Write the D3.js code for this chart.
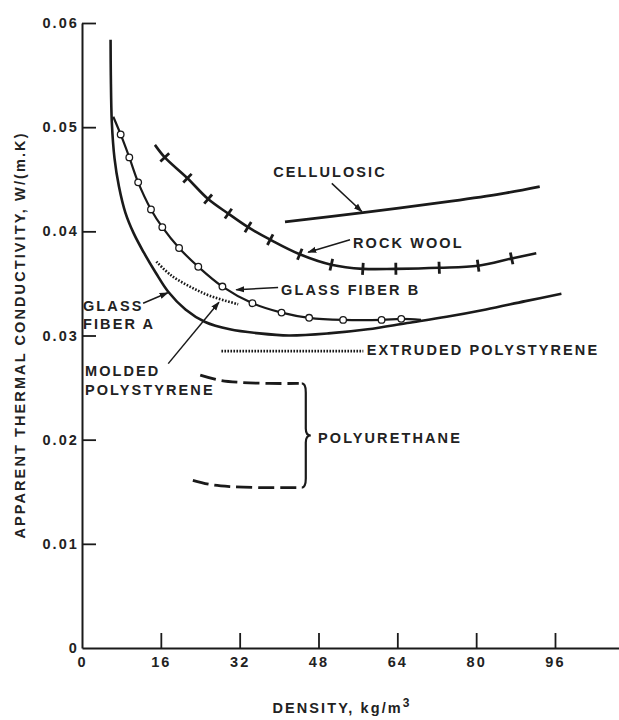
<!DOCTYPE html>
<html>
<head>
<meta charset="utf-8">
<script src="https://cdn.jsdelivr.net/npm/d3@7"></script>
<style>
  html, body { margin: 0; padding: 0; background: #fff; }
  svg { display: block; }
  text { font-family: "Liberation Sans", Arial, Helvetica, sans-serif; font-weight: bold; fill: #222; }
</style>
</head>
<body>
<svg id="chart" width="619" height="720"></svg>
<script>
// ---------- data ----------
const xTickValues = [0, 16, 32, 48, 64, 80, 96];
const yTickValues = [0, 0.01, 0.02, 0.03, 0.04, 0.05, 0.06];
const yTickLabels = ["0", "0.01", "0.02", "0.03", "0.04", "0.05", "0.06"];

const glassA_x = [5.8, 5.85, 6.05, 6.6, 7.5, 8.8, 10.5, 12.5, 15, 17.5, 21, 25, 30, 36, 42, 50, 58, 66, 74, 82, 90, 97.3];
const glassA_y = [0.0584, 0.0550, 0.0505, 0.0470, 0.0443, 0.0418, 0.0398, 0.0380, 0.0360, 0.0342, 0.0325, 0.0313, 0.0306, 0.0302, 0.0300, 0.0302, 0.0306, 0.0312, 0.0318, 0.0325, 0.0333, 0.0340];

const glassB_x = [6.35, 7.85, 9.6, 11.4, 14.0, 16.3, 19.7, 23.6, 28.5, 34.6, 40.5, 46.1, 53.0, 60.8, 64.8, 68.8];
const glassB_y = [0.0510, 0.0493, 0.0471, 0.0447, 0.0421, 0.0404, 0.0384, 0.0366, 0.0347, 0.0331, 0.0322, 0.0317, 0.0315, 0.0315, 0.0316, 0.0315];
const glassB_marker_x = [7.85, 9.6, 11.4, 14.0, 16.3, 19.7, 23.6, 28.5, 34.6, 40.5, 46.1, 53.0, 60.8, 64.8];

const rock_x = [14.8, 16.8, 21.4, 25.6, 29.7, 33.7, 38.2, 44.2, 50.6, 57.0, 63.7, 72.5, 80.4, 87.2, 92.2];
const rock_y = [0.0483, 0.0471, 0.0451, 0.0431, 0.0417, 0.0404, 0.0392, 0.0378, 0.0368, 0.0364, 0.0364, 0.0365, 0.0367, 0.0374, 0.0379];
const rockTick_x = [16.8, 21.4, 25.6, 29.7, 33.7, 38.2, 44.2, 50.6, 57.0, 63.7, 72.5, 80.4, 87.2];

const cell_x = [41.2, 57, 75, 85, 92.9];
const cell_y = [0.0409, 0.0418, 0.0429, 0.0436, 0.0443];

const molded_x = [15.1, 18, 21.9, 26, 31.7];
const molded_y = [0.0371, 0.0358, 0.0347, 0.0338, 0.0330];

const extruded_x = [28.3, 57.1];
const extruded_y = [0.0285, 0.0285];

const pu1_x = [24, 28, 32, 38, 44];
const pu1_y = [0.0262, 0.0257, 0.0255, 0.0254, 0.0254];
const pu2_x = [22.5, 26, 30, 36, 43.5];
const pu2_y = [0.0161, 0.0157, 0.0155, 0.0154, 0.0154];

// labels (text, anchor point in data units)
const labelText = [["CELLULOSIC"], ["ROCK WOOL"], ["GLASS FIBER B"], ["GLASS", "FIBER A"], ["MOLDED", "POLYSTYRENE"], ["EXTRUDED POLYSTYRENE"], ["POLYURETHANE"]];
const label_x = [38.8, 55.0, 40.4, 0.2, 0.6, 57.8, 47.9];
const label_y = [0.0457, 0.0389, 0.0344, 0.0329, 0.0266, 0.0286, 0.0202];

// arrows (from -> to, head at "to")
const arrowFrom_x = [50.7, 54.4, 39.8, 12.4, 17.5];
const arrowFrom_y = [0.0446, 0.0392, 0.0346, 0.0331, 0.0273];
const arrowTo_x = [56.8, 45.9, 31.3, 17.4, 27.8];
const arrowTo_y = [0.0419, 0.0380, 0.0344, 0.0341, 0.0332];

// ---------- chart ----------
const svg = d3.select("#chart");
const x = d3.scaleLinear().domain([0, 109]).range([82, 82 + 109 * 4.927]);
const y = d3.scaleLinear().domain([0, 0.06]).range([648, 23]);
const ink = "#1a1a1a";
const FS = "14.5px", LS = "2.1px";

// axes
const xAxis = d3.axisBottom(x).tickValues(xTickValues).tickSizeInner(-15).tickSizeOuter(0).tickPadding(9).tickFormat(d3.format("d"));
const gx = svg.append("g").attr("transform", "translate(0,648)").call(xAxis);
const yAxis = d3.axisLeft(y).tickValues(yTickValues).tickSizeInner(-14).tickSizeOuter(0).tickPadding(5)
  .tickFormat((d, i) => yTickLabels[i]);
const gy = svg.append("g").attr("transform", "translate(82,0)").call(yAxis);
[gx, gy].forEach(g => {
  g.select(".domain").attr("stroke", ink).attr("stroke-width", 2);
  g.selectAll(".tick line").attr("stroke", ink).attr("stroke-width", 1.8);
  g.selectAll(".tick text").style("font-size", FS).style("letter-spacing", LS).attr("fill", ink);
});
gx.selectAll(".tick").filter(d => d === 0).select("line").remove();
gy.selectAll(".tick").filter(d => d === 0).select("line").remove();
gy.selectAll(".tick text").attr("dx", "2px");

// axis titles
svg.append("text").attr("x", 342).attr("y", 713).attr("text-anchor", "middle")
  .style("font-size", FS).style("letter-spacing", LS)
  .text("DENSITY, kg/m").append("tspan").attr("dy", -6).style("font-size", "12px").text("3");
svg.append("text").attr("transform", "translate(25,335) rotate(-90)").attr("text-anchor", "middle")
  .style("font-size", FS).style("letter-spacing", LS)
  .text("APPARENT THERMAL CONDUCTIVITY, W/(m.K)");

// helpers
const zip = (xs, ys) => xs.map((v, i) => [v, ys[i]]);
const line = d3.line().x(d => x(d[0])).y(d => y(d[1])).curve(d3.curveCatmullRom.alpha(0.5));
function drawLine(pts, opts) {
  return svg.append("path").datum(pts).attr("d", line).attr("fill", "none")
    .attr("stroke", ink).attr("stroke-width", opts.w || 2.4)
    .attr("stroke-dasharray", opts.dash || null).attr("stroke-linecap", opts.cap || "butt");
}

// curves
drawLine(zip(glassA_x, glassA_y), { w: 2.6 });
const pathB = drawLine(zip(glassB_x, glassB_y), { w: 2.2 });
const pathR = drawLine(zip(rock_x, rock_y), { w: 2.6 });
drawLine(zip(cell_x, cell_y), { w: 2.8 });
drawLine(zip(molded_x, molded_y), { w: 2.6, dash: "1.6,1.6" });
drawLine(zip(extruded_x, extruded_y), { w: 2.6, dash: "1.6,1.4" });
drawLine(zip(pu1_x, pu1_y), { w: 2.8, dash: "16,6" });
drawLine(zip(pu2_x, pu2_y), { w: 2.8, dash: "16,6" });

// locate a point on a path by x pixel
function pointAtX(pathSel, px) {
  const node = pathSel.node(), L = node.getTotalLength();
  let lo = 0, hi = L;
  for (let k = 0; k < 40; k++) {
    const mid = (lo + hi) / 2;
    if (node.getPointAtLength(mid).x < px) lo = mid; else hi = mid;
  }
  const p = node.getPointAtLength(lo);
  const p2 = node.getPointAtLength(Math.min(L, lo + 1));
  const p1 = node.getPointAtLength(Math.max(0, lo - 1));
  return { x: p.x, y: p.y, a: Math.atan2(p2.y - p1.y, p2.x - p1.x) };
}

// glass fiber B markers
svg.append("g").selectAll("circle").data(glassB_marker_x).join("circle")
  .each(function (d) {
    const p = pointAtX(pathB, x(d));
    d3.select(this).attr("cx", p.x).attr("cy", p.y);
  })
  .attr("r", 3.3).attr("fill", "#fff").attr("stroke", ink).attr("stroke-width", 1.3);

// rock wool tick marks
svg.append("g").selectAll("line").data(rockTick_x).join("line")
  .each(function (d) {
    const p = pointAtX(pathR, x(d));
    const n = p.a + Math.PI / 2, h = 6;
    d3.select(this).attr("x1", p.x - Math.cos(n) * h).attr("y1", p.y - Math.sin(n) * h)
      .attr("x2", p.x + Math.cos(n) * h).attr("y2", p.y + Math.sin(n) * h);
  })
  .attr("stroke", ink).attr("stroke-width", 2.8);

// polyurethane brace
{
  const x0 = x(pu1_x[pu1_x.length - 1]) + 3;
  const top = y(pu1_y[pu1_y.length - 1]), bot = y(pu2_y[pu2_y.length - 1]);
  const mid = (top + bot) / 2;
  const bx = x0 + 4;
  const d = `M${x0},${top} Q${bx},${top} ${bx},${top + 9} L${bx},${mid - 7} Q${bx},${mid} ${bx + 5},${mid}` +
    ` Q${bx},${mid} ${bx},${mid + 7} L${bx},${bot - 9} Q${bx},${bot} ${x0},${bot}`;
  svg.append("path").attr("d", d).attr("fill", "none").attr("stroke", ink).attr("stroke-width", 2.2);
}

// arrows
svg.append("defs").append("marker").attr("id", "ah").attr("viewBox", "0 0 10 10")
  .attr("refX", 9).attr("refY", 5).attr("markerWidth", 9).attr("markerHeight", 9)
  .attr("markerUnits", "userSpaceOnUse").attr("orient", "auto")
  .append("path").attr("d", "M0,1.5 L10,5 L0,8.5 Z").attr("fill", ink);
svg.append("g").selectAll("line").data(arrowFrom_x).join("line")
  .attr("x1", (d, i) => x(arrowFrom_x[i])).attr("y1", (d, i) => y(arrowFrom_y[i]))
  .attr("x2", (d, i) => x(arrowTo_x[i])).attr("y2", (d, i) => y(arrowTo_y[i]))
  .attr("stroke", ink).attr("stroke-width", 1.5).attr("marker-end", "url(#ah)");

// labels
svg.append("g").selectAll("text").data(labelText).join("text")
  .attr("x", (d, i) => x(label_x[i])).attr("y", (d, i) => y(label_y[i]))
  .style("font-size", FS).style("letter-spacing", LS)
  .each(function (d, i) {
    const t = d3.select(this);
    d.forEach((s, j) => {
      t.append("tspan").attr("x", x(label_x[i])).attr("dy", j === 0 ? "0.36em" : "18.5px").text(s);
    });
  });
</script>
</body>
</html>
